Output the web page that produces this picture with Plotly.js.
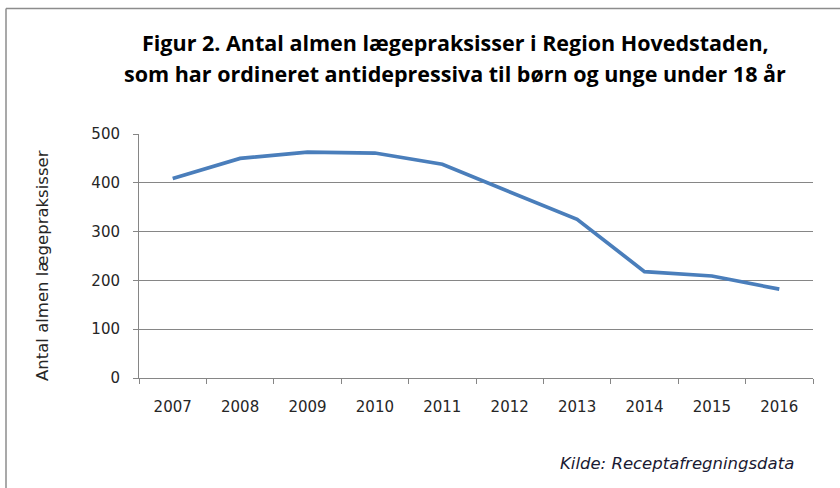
<!DOCTYPE html>
<html>
<head>
<meta charset="utf-8">
<script src="https://cdn.plot.ly/plotly-3.0.1.min.js"></script>
<style>html,body{margin:0;padding:0;background:#fff;}#chart{width:840px;height:488px;}</style>
</head>
<body>
<div id="chart"></div>
<script>
const years = ["2007","2008","2009","2010","2011","2012","2013","2014","2015","2016"];
const practices = [409, 450, 463, 461, 438, 382, 325, 218, 209, 182];
const titleLine1 = "Figur 2. Antal almen lægepraksisser i Region Hovedstaden,";
const titleLine2 = "som har ordineret antidepressiva til børn og unge under 18 år";
const yTitle = "Antal almen lægepraksisser";
const sourceText = "Kilde: Receptafregningsdata";

const W = 840, H = 488;
const L = 139, R = 27, T = 134, B = 110;
const pw = W - L - R, ph = H - T - B;
const px = x => (x - L) / pw;
const py = y => (H - B - y) / ph;

const trace = {
  x: years, y: practices, type: 'scatter', mode: 'lines',
  line: {color: '#4A7EBB', width: 3.7},
  hoverinfo: 'skip'
};

const layout = {
  width: W, height: H,
  margin: {l: L, r: R, t: T, b: B},
  paper_bgcolor: '#ffffff', plot_bgcolor: '#ffffff',
  showlegend: false,
  font: {family: 'DejaVu Sans, sans-serif', size: 15, color: '#262626'},
  xaxis: {
    type: 'category', tickson: 'boundaries',
    range: [-0.5, years.length - 0.5], autorange: false,
    showline: true, linecolor: '#868686', linewidth: 1,
    ticks: 'outside', ticklen: 5, tickcolor: '#868686',
    showgrid: false, zeroline: false,
    ticklabelstandoff: 15,
    tickfont: {family: 'DejaVu Sans, sans-serif', size: 15, color: '#262626'},
    fixedrange: true
  },
  yaxis: {
    range: [0, 500], dtick: 100, tick0: 0,
    showline: true, linecolor: '#868686', linewidth: 1,
    ticks: 'outside', ticklen: 5, tickcolor: '#868686',
    showgrid: true, gridcolor: '#868686', gridwidth: 1,
    zeroline: false,
    ticklabelstandoff: 10,
    tickfont: {family: 'DejaVu Sans, sans-serif', size: 15, color: '#262626'},
    fixedrange: true
  },
  annotations: [
    {text: '<b>' + titleLine1 + '</b>', xref: 'paper', yref: 'paper', x: px(455), y: py(42),
     xanchor: 'center', yanchor: 'middle', showarrow: false,
     font: {family: 'Open Sans, sans-serif', size: 21.5, color: '#000000'}},
    {text: '<b>' + titleLine2 + '</b>', xref: 'paper', yref: 'paper', x: px(455), y: py(73),
     xanchor: 'center', yanchor: 'middle', showarrow: false,
     font: {family: 'Open Sans, sans-serif', size: 21.5, color: '#000000'}},
    {text: yTitle, xref: 'paper', yref: 'paper', x: px(42), y: py(266),
     xanchor: 'center', yanchor: 'middle', showarrow: false, textangle: -90,
     font: {family: 'DejaVu Sans, sans-serif', size: 16.5, color: '#262626'}},
    {text: '<i>' + sourceText + '</i>', xref: 'paper', yref: 'paper', x: px(677), y: py(463),
     xanchor: 'center', yanchor: 'middle', showarrow: false,
     font: {family: 'DejaVu Sans, sans-serif', size: 16.5, color: '#1a1a33'}}
  ],
  shapes: [
    {type: 'line', xref: 'paper', yref: 'paper', x0: px(6), x1: px(900), y0: py(8.5), y1: py(8.5),
     line: {color: '#8c8c8c', width: 1.5}},
    {type: 'line', xref: 'paper', yref: 'paper', x0: px(6), x1: px(6), y0: py(8.5), y1: py(560),
     line: {color: '#8c8c8c', width: 1.5}}
  ]
};

Plotly.newPlot('chart', [trace], layout, {staticPlot: true, displayModeBar: false});
</script>
</body>
</html>
